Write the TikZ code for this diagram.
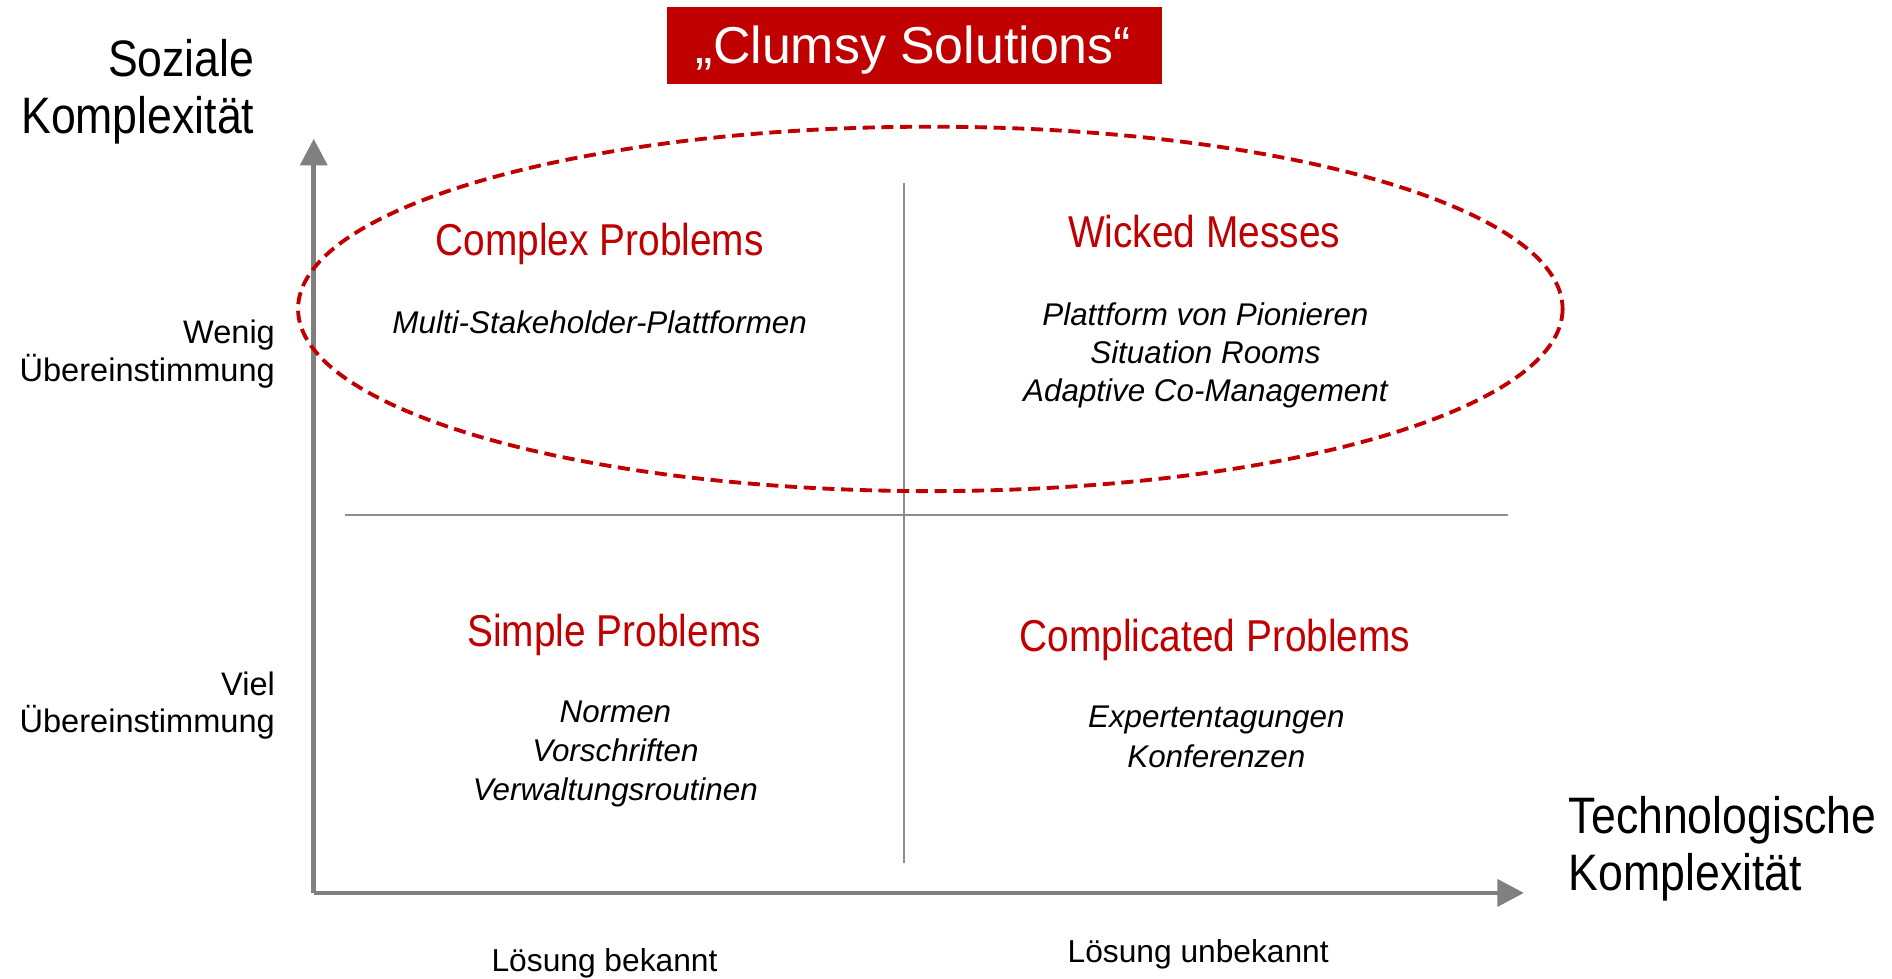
\documentclass[tikz,border=0pt]{standalone}
\usepackage{fontspec}
\setmainfont{Liberation Sans}
\newfontfamily\dinc{Liberation Sans}[FakeStretch=0.87]
\usetikzlibrary{arrows.meta}
\definecolor{hred}{HTML}{C00000}
\definecolor{axgray}{HTML}{808080}
\tikzset{
  axis/.style={draw=axgray, line width=4pt, -{Triangle[length=22pt,width=22pt]}},
  divider/.style={draw=axgray!90, line width=1.8pt},
  ellipsestyle/.style={draw=hred, line width=3.2pt, dash pattern=on 10pt off 5.5pt},
  head/.style={text=hred, font=\dinc\fontsize{37}{40}\selectfont, anchor=base, inner sep=0pt},
  item/.style={font=\itshape\fontsize{26}{32}\selectfont, anchor=base, inner sep=0pt},
  axtitle/.style={font=\dinc\fontsize{42.5}{48}\selectfont, inner sep=0pt},
  lab/.style={font=\fontsize{27}{31}\selectfont, inner sep=0pt},
  foot/.style={font=\fontsize{26.3}{30}\selectfont, anchor=base, inner sep=0pt},
}
\begin{document}
\begin{tikzpicture}[x=1pt,y=-1pt]
\useasboundingbox (0,0) rectangle (1568,811);
% title
\node[fill=hred, minimum width=410pt, minimum height=64pt, inner sep=0pt] (title) at (758,38) {};
\node[text=white, font=\fontsize{43}{46}\selectfont, anchor=base, inner sep=0pt] (titletext) at (757,53) {„Clumsy Solutions“};
% axes
\coordinate (origin) at (260,740);
\coordinate (ytip) at (260,115);
\coordinate (xtip) at (1263,740);
\draw[axis] (origin) -- (ytip);
\draw[axis] (origin) -- (xtip);
% dividers
\coordinate (vtop) at (749,152);
\coordinate (vbot) at (749,715);
\coordinate (hl) at (286,427);
\coordinate (hr) at (1250,427);
\draw[divider] (vtop) -- (vbot);
\draw[divider] (hl) -- (hr);
% ellipse
\coordinate (ecenter) at (771,256);
\draw[ellipsestyle] (ecenter) ellipse [x radius=524, y radius=151];
% axis titles
\node[axtitle, anchor=base east] (soz) at (211,63) {Soziale};
\node[axtitle, anchor=base east] (soz2) at (211,111) {Komplexität};
\node[axtitle, anchor=base west] (tech) at (1300,691) {Technologische};
\node[axtitle, anchor=base west] (tech2) at (1300,738) {Komplexität};
% side labels
\node[lab, anchor=base east] (wenig) at (228,285) {Wenig};
\node[lab, anchor=base east] (wenig2) at (228,316) {Übereinstimmung};
\node[lab, anchor=base east] (viel) at (228,576) {Viel};
\node[lab, anchor=base east] (viel2) at (228,607) {Übereinstimmung};
% quadrant headings
\node[head] (complex) at (497,212) {Complex Problems};
\node[head] (wicked) at (998,205) {Wicked Messes};
\node[head] (simple) at (509,536) {Simple Problems};
\node[head] (complicated) at (1007,540) {Complicated Problems};
% items
\node[item] (multi) at (497,276) {Multi-Stakeholder-Plattformen};
\node[item] (platt) at (999,270) {Plattform von Pionieren};
\node[item] (sit) at (999,301) {Situation Rooms};
\node[item] (adapt) at (999,333) {Adaptive Co-Management};
\node[item] (normen) at (510,599) {Normen};
\node[item] (vorsch) at (510,631) {Vorschriften};
\node[item] (verw) at (510,663) {Verwaltungsroutinen};
\node[item] (exp) at (1008,603) {Expertentagungen};
\node[item] (konf) at (1008,636) {Konferenzen};
% foot labels
\node[foot] (bek) at (501,805) {Lösung bekannt};
\node[foot] (unbek) at (993,798) {Lösung unbekannt};
\end{tikzpicture}
\end{document}
